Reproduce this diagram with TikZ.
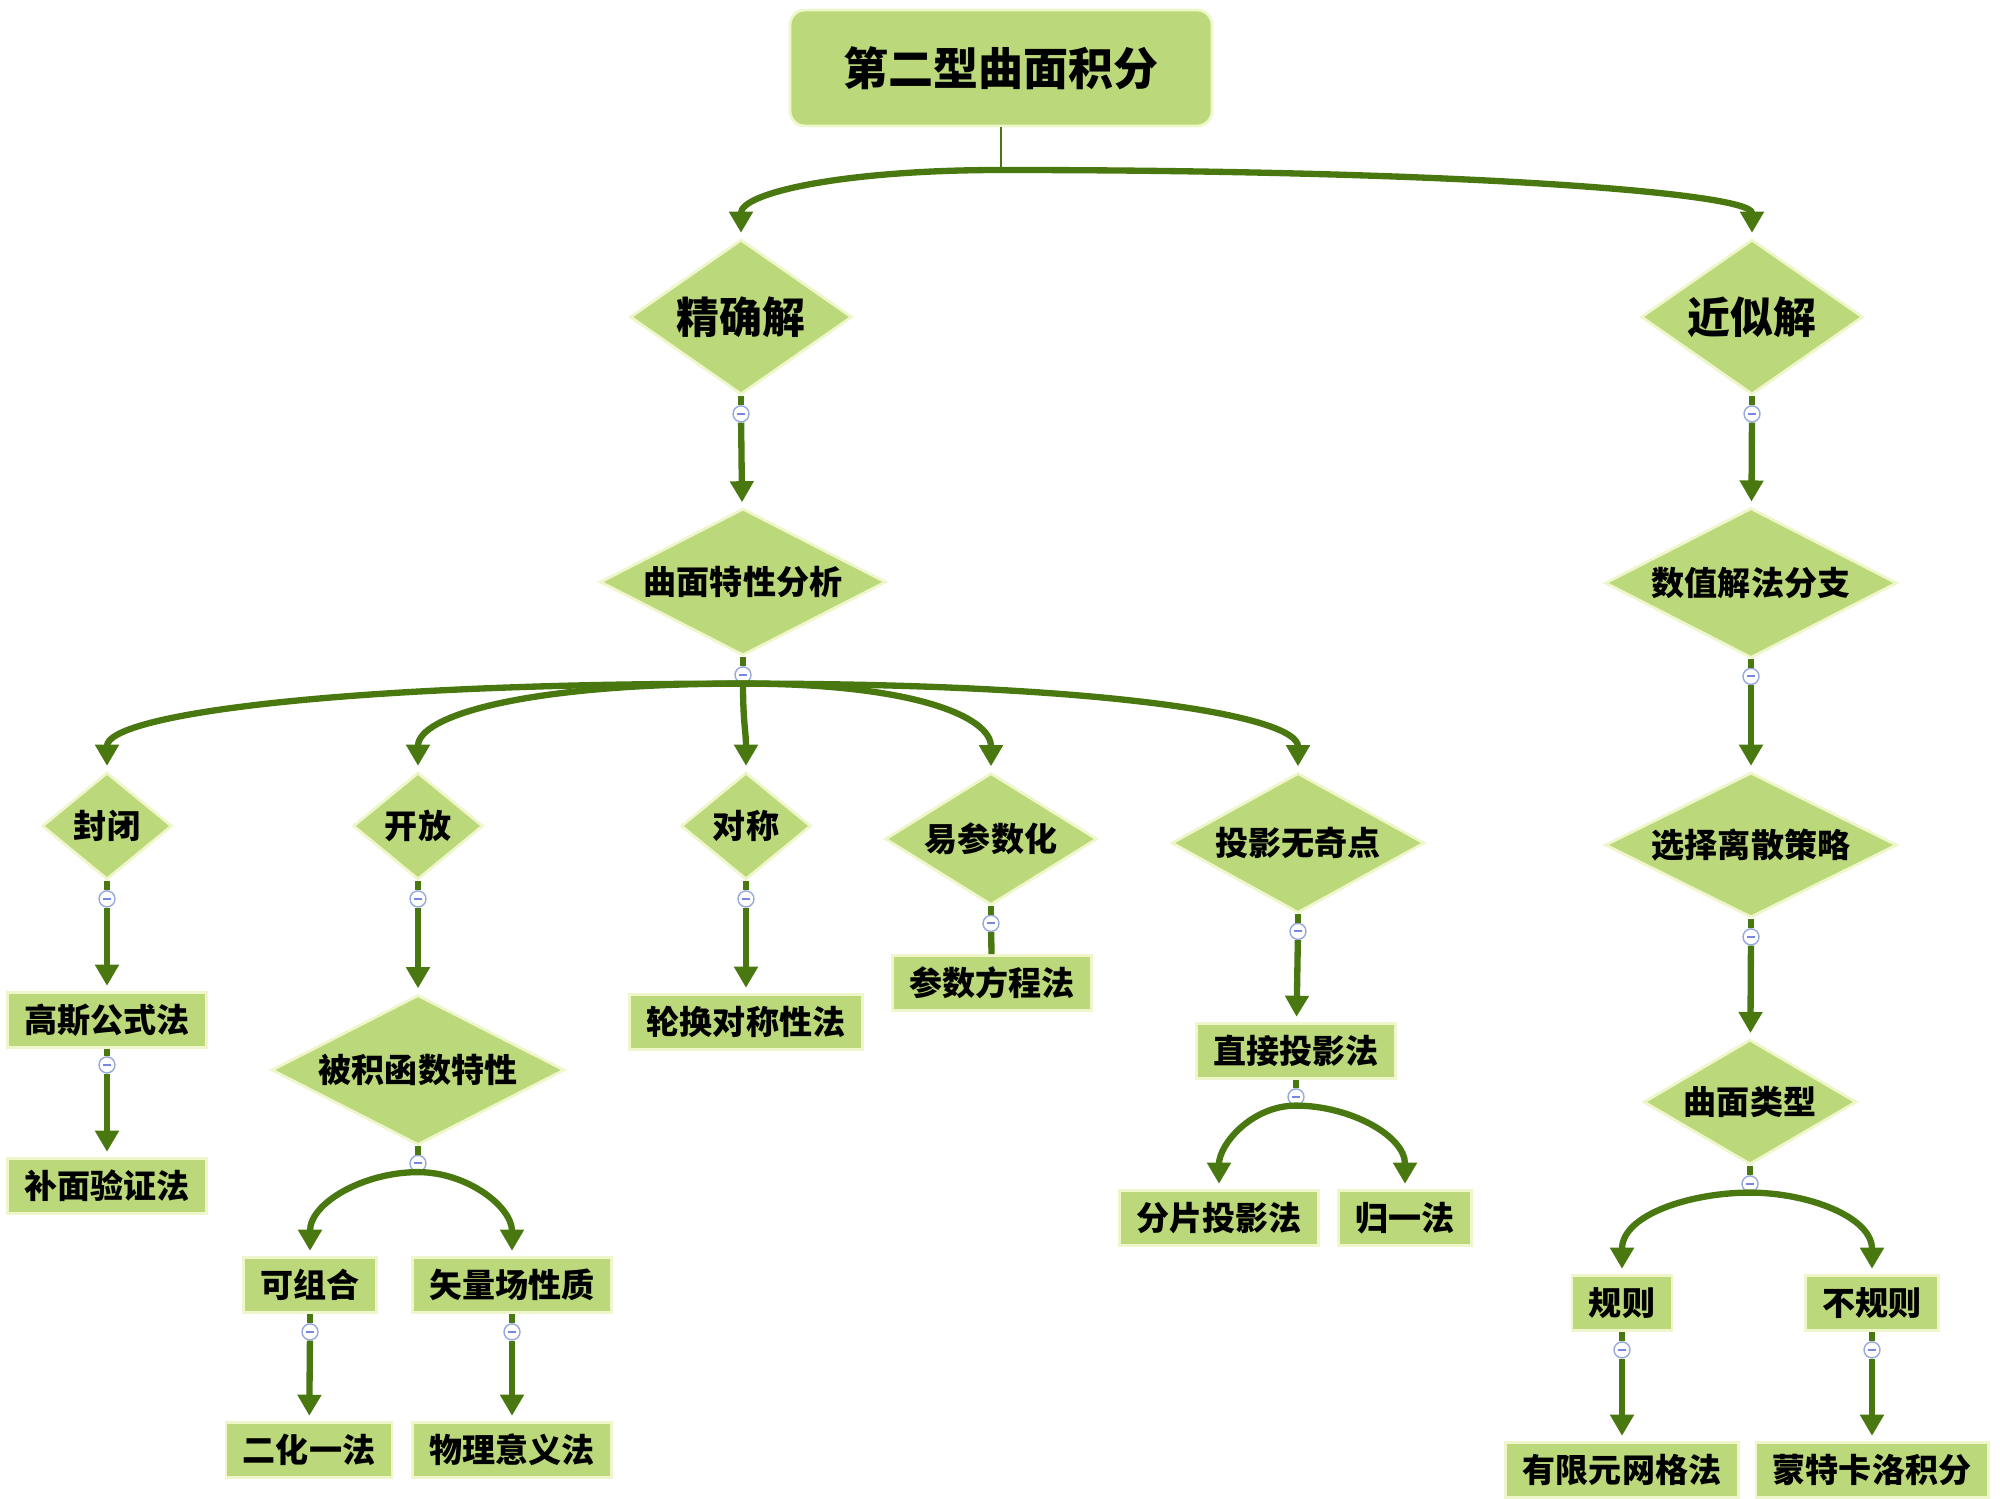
\documentclass[tikz,border=0pt]{standalone}
\usepackage{fontspec}
\newfontfamily\cjk{Noto Sans CJK SC}
\usetikzlibrary{calc,shapes.geometric,arrows.meta}

\definecolor{leaf}{RGB}{187,217,122}
\definecolor{stem}{RGB}{74,120,16}
\definecolor{rim}{RGB}{240,246,204}
\definecolor{knob}{RGB}{150,168,222}

\tikzset{
  box/.style={rectangle, fill=leaf, draw=rim, line width=0.8pt, minimum height=0.55cm,
    inner xsep=0.17cm, inner ysep=0pt, font=\cjk\bfseries\fontsize{9.4}{11}\selectfont},
  choice/.style={diamond, aspect=1.9, fill=leaf, draw=rim, line width=0.8pt, inner sep=0pt,
    font=\cjk\bfseries\fontsize{9.4}{11}\selectfont},
  bigchoice/.style={choice, font=\cjk\bfseries\fontsize{12.2}{14}\selectfont},
  link/.style={stem, line width=1.8pt, shorten >=1.5pt, -{Triangle[width=6.5pt,length=6pt]}},
  stub/.style={stem, line width=1.8pt},
  fold/.style={circle, fill=white, draw=knob, line width=0.4pt, minimum size=0.16cm, inner sep=0pt,
    path picture={\draw[knob!80!blue, line width=0.6pt]
      ([xshift=-1.1pt]path picture bounding box.center) -- ([xshift=1.1pt]path picture bounding box.center);}},
}

\begin{document}
\begin{tikzpicture}
    \useasboundingbox (0,0) rectangle (20,-14.99);

    % top
    \node[rectangle, rounded corners=0.15cm, fill=leaf, draw=rim, line width=0.8pt,
      minimum width=4.22cm, minimum height=1.16cm, font=\cjk\bfseries\fontsize{12.8}{15}\selectfont]
      (root) at (10.01,-0.68) {第二型曲面积分};
    \coordinate (split) at (10.01,-1.70);

    \node[bigchoice, minimum width=2.22cm, minimum height=1.55cm] (jing) at (7.41,-3.17) {精确解};
    \node[bigchoice, minimum width=2.22cm, minimum height=1.55cm] (jin) at (17.52,-3.17) {近似解};

    \draw[stem, line width=0.8pt] (root.south) -- (split);
    \draw[link] (split) .. controls +(-1.6,0) and +(0,0.45) .. (jing.north);
    \draw[link] (split) .. controls +(4.6,0) and +(0,0.45) .. (jin.north);

    % exact branch
    \node[choice, minimum width=2.86cm, minimum height=1.47cm] (quxian) at (7.43,-5.82) {曲面特性分析};
    \node[choice, minimum width=1.30cm, minimum height=1.07cm] (feng) at (1.07,-8.26) {封闭};
    \node[choice, minimum width=1.30cm, minimum height=1.07cm] (kai) at (4.18,-8.26) {开放};
    \node[choice, minimum width=1.30cm, minimum height=1.07cm] (dui) at (7.46,-8.26) {对称};
    \node[choice, minimum width=2.12cm, minimum height=1.32cm] (yi) at (9.91,-8.39) {易参数化};
    \node[choice, minimum width=2.53cm, minimum height=1.40cm] (touying) at (12.98,-8.43) {投影无奇点};

    \node[fold] (fjing) at ($(jing.south)+(0,-0.18)$) {};
    \draw[stub] (jing.south) -- (fjing);
    \draw[link] (fjing) -- (quxian);

    \node[fold] (fquxian) at ($(quxian.south)+(0,-0.18)$) {};
    \draw[stub] (quxian.south) -- (fquxian);
    \draw[link] (fquxian.south) .. controls +(-4.2,0) and +(0,0.55) .. (feng.north);
    \draw[link] (fquxian.south) .. controls +(-2.2,0) and +(0,0.55) .. (kai.north);
    \draw[link] (fquxian.south) .. controls +(0,-0.4) and +(0,0.4) .. (dui.north);
    \draw[link] (fquxian.south) .. controls +(1.7,0) and +(0,0.55) .. (yi.north);
    \draw[link] (fquxian.south) .. controls +(3.7,0) and +(0,0.55) .. (touying.north);

    % closed
    \node[box] (gaosi) at (1.07,-10.20) {高斯公式法};
    \node[box] (bumian) at (1.07,-11.86) {补面验证法};
    \node[fold] (ffeng) at ($(feng.south)+(0,-0.18)$) {};
    \draw[stub] (feng.south) -- (ffeng);
    \draw[link] (ffeng) -- (gaosi);
    \node[fold] (fgaosi) at ($(gaosi.south)+(0,-0.16)$) {};
    \draw[stub] (gaosi.south) -- (fgaosi);
    \draw[link] (fgaosi) -- (bumian);

    % open
    \node[choice, minimum width=2.93cm, minimum height=1.50cm] (beiji) at (4.18,-10.70) {被积函数特性};
    \node[box] (kezuhe) at (3.10,-12.85) {可组合};
    \node[box] (shiliang) at (5.12,-12.85) {矢量场性质};
    \node[box] (erhua) at (3.09,-14.50) {二化一法};
    \node[box] (wuli) at (5.12,-14.50) {物理意义法};
    \node[fold] (fkai) at ($(kai.south)+(0,-0.18)$) {};
    \draw[stub] (kai.south) -- (fkai);
    \draw[link] (fkai) -- (beiji);
    \node[fold] (fbeiji) at ($(beiji.south)+(0,-0.17)$) {};
    \draw[stub] (beiji.south) -- (fbeiji);
    \draw[link] (fbeiji.south) to[out=180,in=90] (kezuhe.north);
    \draw[link] (fbeiji.south) to[out=0,in=90] (shiliang.north);
    \node[fold] (fkezuhe) at ($(kezuhe.south)+(0,-0.18)$) {};
    \draw[stub] (kezuhe.south) -- (fkezuhe);
    \draw[link] (fkezuhe) -- (erhua);
    \node[fold] (fshiliang) at ($(shiliang.south)+(0,-0.18)$) {};
    \draw[stub] (shiliang.south) -- (fshiliang);
    \draw[link] (fshiliang) -- (wuli);

    % symmetric, parametric
    \node[box] (lunhuan) at (7.46,-10.22) {轮换对称性法};
    \node[fold] (fdui) at ($(dui.south)+(0,-0.18)$) {};
    \draw[stub] (dui.south) -- (fdui);
    \draw[link] (fdui) -- (lunhuan);

    \node[box] (canshu) at (9.92,-9.83) {参数方程法};
    \node[fold] (fyi) at ($(yi.south)+(0,-0.17)$) {};
    \draw[stub] (yi.south) -- (fyi);
    \draw[stub] (fyi) -- (canshu);

    % projection
    \node[box] (zhijie) at (12.96,-10.51) {直接投影法};
    \node[box] (fenpian) at (12.19,-12.18) {分片投影法};
    \node[box] (guiyi) at (14.05,-12.18) {归一法};
    \node[fold] (ftouying) at ($(touying.south)+(0,-0.17)$) {};
    \draw[stub] (touying.south) -- (ftouying);
    \draw[link] (ftouying) -- (zhijie);
    \node[fold] (fzhijie) at ($(zhijie.south)+(0,-0.17)$) {};
    \draw[stub] (zhijie.south) -- (fzhijie);
    \draw[link] (fzhijie.south) to[out=180,in=90] (fenpian.north);
    \draw[link] (fzhijie.south) to[out=0,in=90] (guiyi.north);

    % approximate branch
    \node[choice, minimum width=2.92cm, minimum height=1.50cm] (shuzhi) at (17.51,-5.83) {数值解法分支};
    \node[choice, minimum width=2.92cm, minimum height=1.45cm] (xuanze) at (17.51,-8.45) {选择离散策略};
    \node[choice, minimum width=2.13cm, minimum height=1.25cm] (leixing) at (17.50,-11.02) {曲面类型};
    \node[box] (guize) at (16.22,-13.03) {规则};
    \node[box] (buguize) at (18.72,-13.03) {不规则};
    \node[box] (youxian) at (16.22,-14.70) {有限元网格法};
    \node[box] (mengte) at (18.72,-14.70) {蒙特卡洛积分};

    \node[fold] (fjin) at ($(jin.south)+(0,-0.18)$) {};
    \draw[stub] (jin.south) -- (fjin);
    \draw[link] (fjin) -- (shuzhi);
    \node[fold] (fshuzhi) at ($(shuzhi.south)+(0,-0.17)$) {};
    \draw[stub] (shuzhi.south) -- (fshuzhi);
    \draw[link] (fshuzhi) -- (xuanze);
    \node[fold] (fxuanze) at ($(xuanze.south)+(0,-0.18)$) {};
    \draw[stub] (xuanze.south) -- (fxuanze);
    \draw[link] (fxuanze) -- (leixing);
    \node[fold] (fleixing) at ($(leixing.south)+(0,-0.18)$) {};
    \draw[stub] (leixing.south) -- (fleixing);
    \draw[link] (fleixing.south) to[out=180,in=90] (guize.north);
    \draw[link] (fleixing.south) to[out=0,in=90] (buguize.north);
    \node[fold] (fguize) at ($(guize.south)+(0,-0.18)$) {};
    \draw[stub] (guize.south) -- (fguize);
    \draw[link] (fguize) -- (youxian);
    \node[fold] (fbuguize) at ($(buguize.south)+(0,-0.18)$) {};
    \draw[stub] (buguize.south) -- (fbuguize);
    \draw[link] (fbuguize) -- (mengte);
  \end{tikzpicture}
\end{document}
